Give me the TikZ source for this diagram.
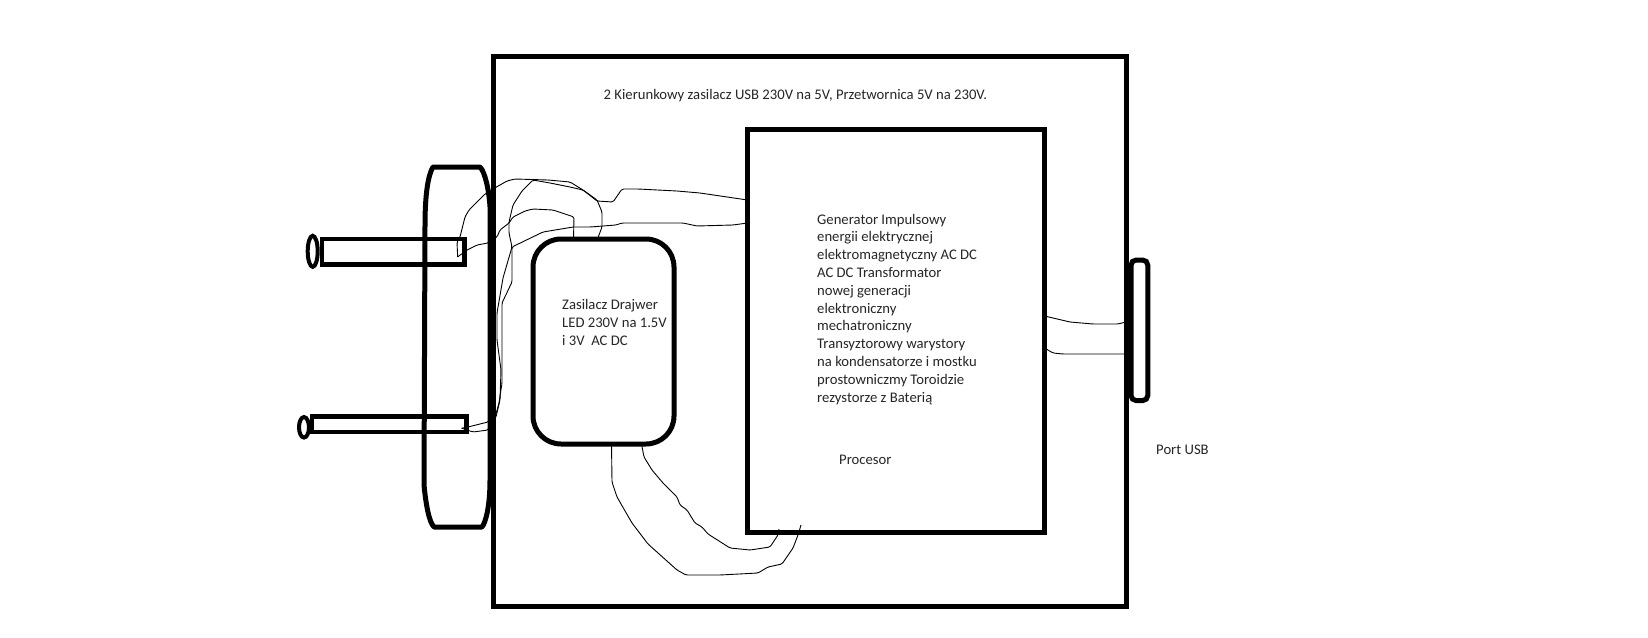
\documentclass[tikz,border=0pt]{standalone}
\usepackage{fontspec}
\setmainfont{Carlito}
\usepackage{tikz}
\usetikzlibrary{shapes.geometric}
\tikzstyle{heavybox} = [rectangle,
inner sep=0pt,
outer sep=0pt,
line width=5pt,
draw=black]
\tikzstyle{pinbox} = [heavybox, line width=4.6pt]
\tikzstyle{pintip} = [ellipse, inner sep=0pt, outer sep=0pt, line width=4pt, draw=black]
\tikzstyle{labeltext} = [inner sep=0pt, align=left, text=black!85,
font=\fontsize{14.67}{17.8}\selectfont]
\tikzstyle{wireline} = [line width=0.9pt, line join=round, rounded corners=1.5pt]

\begin{document}
\begin{tikzpicture}[x=1pt, y=-1pt]
		\useasboundingbox [fill=white] (0,0) rectangle (1648,637);
		
		\node (outerbox) [heavybox, minimum width=632.7pt, minimum height=550pt] at (809.7,331) {};
		\node (genbox) [heavybox, minimum width=297pt, minimum height=403pt] at (896,330.5) {};
		\node (psubox) [heavybox, rounded corners=28pt, minimum width=141pt, minimum height=205pt] at (603.5,341.5) {};
		\node (usbport) [heavybox, rounded corners=5pt, minimum width=16.7pt, minimum height=140.5pt] at (1139.4,330.3) {};
		
		\draw [line width=5pt, line join=round] (490,207) .. controls (489,190) and (485,172) .. (480,167)
			-- (433,167) .. controls (428,175) and (425,195) .. (425,225)
			-- (424,485) .. controls (426,505) and (429,522) .. (434,527)
			-- (482,527) .. controls (486,522) and (490,505) .. (490,480) -- cycle;
		
		\node (pinupper) [pinbox, minimum width=142.7pt, minimum height=25.7pt] at (393.3,251.9) {};
		\node (pinlower) [pinbox, minimum width=154.7pt, minimum height=15.7pt] at (389.3,424.2) {};
		\node (tipupper) [pintip, minimum width=10pt, minimum height=31pt] at (312.7,251.3) {};
		\node (tiplower) [pintip, minimum width=10pt, minimum height=20.5pt] at (304,427.3) {};
		
		\node (titletext) [labeltext, anchor=base west] at (603.5,99.5) {2 Kierunkowy zasilacz USB 230V na 5V, Przetwornica 5V na 230V.};
		\node (psutext) [labeltext, anchor=base west] at (562,345) {Zasilacz Drajwer\\LED 230V na 1.5V\\i 3V\ \ AC DC};
		\node (gentext) [labeltext, anchor=base west] at (817,402) {Generator Impulsowy\\energii elektrycznej\\elektromagnetyczny AC DC\\AC DC Transformator\\nowej generacji\\elektroniczny\\mechatroniczny\\Transyztorowy warystory\\na kondensatorze i mostku\\prostowniczmy Toroidzie\\rezystorze z Baterią};
		\node (proctext) [labeltext, anchor=base west] at (839,464) {Procesor};
		\node (usbtext) [labeltext, anchor=base west] at (1156,454) {Port USB};
		
		% wires from the plug
		\draw [wireline] ([shift={(-7pt,-5pt)}]pinupper.east) -- (457,242) -- (460,237) -- (465,217) -- (469,210) -- (485,194) -- (493,189) -- (507,181) -- (515,179) -- (548,180) -- (570,182) -- (583,190) -- (597,201) -- (613,202) -- (622,189) -- (638,189) -- (677,191) -- (700,193) -- ([yshift=-71pt]genbox.north west);
		\draw [wireline] ([shift={(-7pt,-5pt)}]pinupper.east) -- (467,250) -- (477,245) -- (488,243) -- (497,237) -- (500,230) -- (509,223) -- (513,217) -- (525,211) -- (533,209) -- (553,210) -- (574,217) -- ([xshift=-30pt]psubox.north);
		\draw [wireline] ([shift={(-5pt,-4pt)}]pinlower.east) -- (468,427) -- (488,422) -- (496,414) -- (499,403) -- (502,383) -- (502,303) -- (512,282) -- (512,247) -- (543,232) -- (573,227) -- (590,227) -- (616,225) -- (622,223) -- (683,223) -- (697,226) -- (733,225) -- ([yshift=-94pt]genbox.north west);
		\draw [wireline] ([shift={(-5pt,-4pt)}]pinlower.east) -- (473,432) -- (488,430) -- (496,417) -- (500,400) -- (501,370) -- (497,340) -- (497,313) -- (503,278) -- (512,247) -- (509,233) -- (509,222) -- (513,205) -- (522,191) -- (533,180) -- (550,183) -- (570,187) -- (583,190) -- (597,200) -- (602,212) -- (602,227) -- ([xshift=-6pt]psubox.north);
		
		% wires from the driver to the generator
		\draw [wireline] ([xshift=8pt]psubox.south) -- (612,482) -- (617,497) -- (632,523) -- (648,544) -- (677,570) -- (686,575) -- (720,575) -- (758,573) -- (768,567) -- (782,564) -- (793,548) -- (798,535) -- ([xshift=53.5pt,yshift=7pt]genbox.south west);
		\draw [wireline] ([xshift=38pt]psubox.south) -- (644,457) -- (652,470) -- (663,483) -- (677,497) -- (680,505) -- (687,510) -- (695,523) -- (702,527) -- (708,534) -- (730,548) -- (750,550) -- (770,547) -- (778,535) -- ([xshift=31.5pt,yshift=3pt]genbox.south west);
		
		% wires to the usb port
		\draw [wireline] ([yshift=14.5pt]genbox.east) -- (1070,322) -- (1093,324) -- (1118,324) -- ([yshift=9pt]outerbox.east);
		\draw [wireline] ([yshift=-17.5pt]genbox.east) -- (1053,353) -- (1063,354) -- ([yshift=-23pt]outerbox.east);
	\end{tikzpicture}
\end{document}
